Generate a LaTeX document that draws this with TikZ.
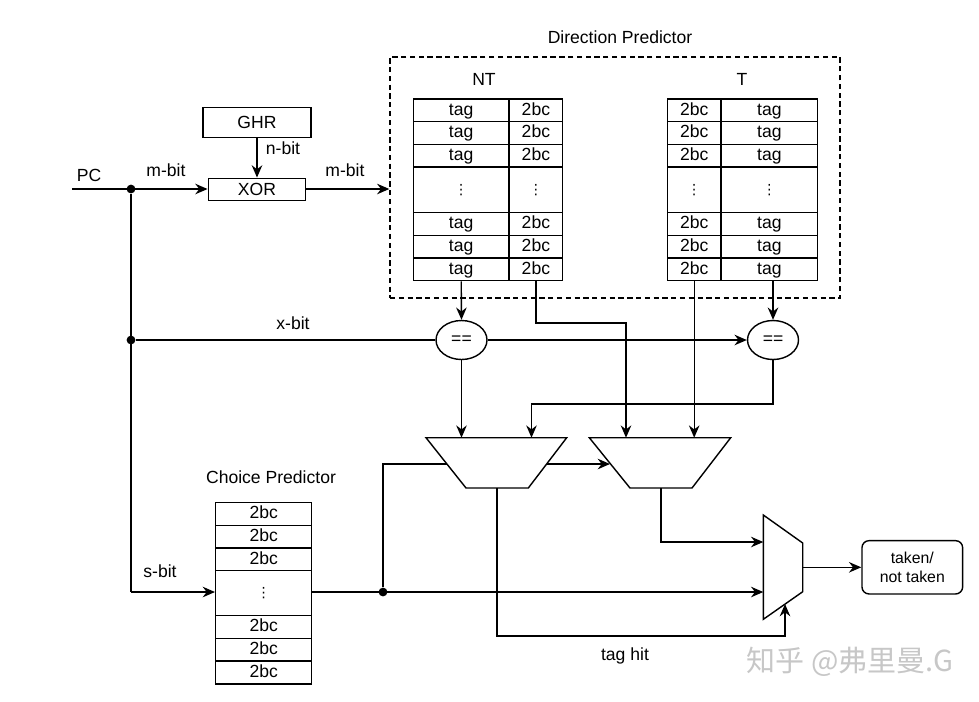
\documentclass[tikz,border=0pt]{standalone}
\usepackage{fontspec}
\setmainfont{Liberation Sans}
\newfontfamily\cjkfont{Noto Sans CJK SC}
\newfontfamily\symfont{DejaVu Sans}
\usetikzlibrary{arrows.meta,shapes.geometric}

\tikzset{
  wire/.style={line width=0.8pt},
  arr/.style={wire,-{Stealth[length=7pt,width=6pt]}},
  lbl/.style={font=\fontsize{10}{12}\selectfont,inner sep=0pt},
  cell/.style={draw,line width=0.8pt,inner sep=0pt,minimum height=0.454cm,
    text height=7.4pt,text depth=2pt,font=\fontsize{10}{12}\selectfont},
  dotcell/.style={draw,line width=0.8pt,inner sep=0pt,minimum height=0.914cm,
    font=\symfont\fontsize{8}{9}\selectfont},
  blk/.style={draw,line width=0.8pt,inner sep=0pt,fill=white,
    font=\fontsize{10}{12}\selectfont},
  cmp/.style={draw,ellipse,line width=0.8pt,minimum width=1.02cm,minimum height=0.78cm,
    inner sep=0pt,font=\fontsize{10}{12}\selectfont},
  junction/.style={circle,fill,inner sep=0pt,minimum size=5pt},
}

\begin{document}
\begin{tikzpicture}[x=0.02cm,y=-0.02cm]
  \useasboundingbox (0,0) rectangle (979,701);

  % PC, GHR and XOR
  \coordinate (pcin) at (72,189);
  \node[lbl] (pclbl) at (89,175) {PC};
  \node[blk,minimum width=2.16cm,minimum height=0.61cm] (ghr) at (257,122.5) {GHR};
  \node[blk,minimum width=1.95cm,minimum height=0.45cm] (xor) at (257,189.5) {XOR};
  \node[junction] (j1) at (131,189) {};
  \node[junction] (j2) at (131,340) {};
  \coordinate (j3) at (131,592);
  \draw[arr] (pcin) -- (xor.west |- pcin);
  \draw[arr] (ghr) -- (xor);
  \node[lbl] (mbit1) at (166,170) {m-bit};
  \node[lbl] (nbit) at (283,148) {n-bit};
  \node[lbl] (mbit2) at (345,170) {m-bit};

  % direction predictor
  \node[lbl] (dptitle) at (620,37) {Direction Predictor};
  \node[draw,line width=0.8pt,dash pattern=on 3pt off 2pt,minimum width=9cm,
    minimum height=4.82cm] (dp) at (615,177.5) {};
  \draw[arr] (xor.east |- pcin) -- (dp.west |- pcin);
  \node[lbl] (ntlbl) at (484,79) {NT};
  \node[lbl] (tlbl) at (742,79) {T};
  \foreach \i/\y in {1/110.4,2/133,3/155.7,5/224,6/246.7,7/269.4} {
    \node[cell,minimum width=1.914cm] (ntA\i) at (461.2,\y) {tag};
    \node[cell,minimum width=1.074cm] (ntB\i) at (535.9,\y) {2bc};
    \node[cell,minimum width=1.074cm] (tA\i) at (694.2,\y) {2bc};
    \node[cell,minimum width=1.934cm] (tB\i) at (769.4,\y) {tag};
  }
  \node[dotcell,minimum width=1.914cm] (ntA4) at (461.2,189.9) {⋮};
  \node[dotcell,minimum width=1.074cm] (ntB4) at (535.9,189.9) {⋮};
  \node[dotcell,minimum width=1.074cm] (tA4) at (694.2,189.9) {⋮};
  \node[dotcell,minimum width=1.934cm] (tB4) at (769.4,189.9) {⋮};

  % comparators
  \node[cmp] (eq1) at (461.5,340) {==};
  \node[cmp] (eq2) at (773,340) {==};
  \draw[wire] (j1) -- (j3);
  \draw[wire] (j2) -- (eq1);
  \node[lbl] (xbit) at (293,323) {x-bit};
  \draw[arr] (eq1) -- (eq2);
  \draw[arr] (ntA7.south) -- (eq1.north);
  \draw[arr] (tB7.south -| eq2) -- (eq2.north);

  % muxes
  \coordinate (m0in1) at (461.5,437.7);
  \coordinate (m0in2) at (531.5,437.7);
  \coordinate (bend1) at (531.5,404);
  \coordinate (m1in1) at (626,437.7);
  \coordinate (m1in2) at (694.2,437.7);
  \coordinate (bend2) at (535.9,323);
  \coordinate (m1sel) at (610,464);
  \coordinate (m0out) at (497,488);
  \coordinate (m1out) at (661,488);
  \coordinate (m2in1) at (763.3,542);
  \coordinate (m2in2) at (763.3,592);
  \coordinate (hitbend) at (785,636);
  \coordinate (m2sel) at (785,604);
  \coordinate (m2out) at (802.7,567.3);
  \node[junction] (j4) at (383,592) {};

  \draw[arr] (eq1.south) -- (m0in1);
  \draw[arr] (eq2.south) |- (bend1) -- (m0in2);
  \draw[arr] (ntB7.south) -- (bend2) -| (m1in1);
  \draw[arr] (tA7.south) -- (m1in2);
  \draw[arr] (j4) |- (m1sel);
  \draw[wire,fill=white] (426,437.7) -- (566.7,437.7) -- (528.3,488) -- (466,488) -- cycle;
  \draw[wire,fill=white] (589.3,437.7) -- (730.7,437.7) -- (692,488) -- (630,488) -- cycle;
  \draw[wire,fill=white] (763.3,515) -- (802.7,543) -- (802.7,591.7) -- (763.3,619.3) -- cycle;

  % choice predictor
  \node[lbl] (cptitle) at (271,477) {Choice Predictor};
  \foreach \i/\y in {1/514,2/536.7,3/559.3,5/627,6/649.8,7/672.7}
    \node[cell,minimum width=1.92cm] (cp\i) at (263.7,\y) {2bc};
  \node[dotcell,minimum width=1.92cm,minimum height=0.9cm] (cp4) at (263.7,593.2) {⋮};
  \draw[arr] (j3) -- (cp4.west |- j3);
  \node[lbl] (sbit) at (160,571) {s-bit};
  \draw[arr] (cp4.east |- j3) -- (m2in2);
  \draw[arr] (m1out) |- (m2in1);
  \draw[arr] (m0out) |- (hitbend) -- (m2sel);
  \node[lbl] (taghit) at (625,656) {tag hit};

  % result
  \node[draw,line width=0.8pt,rounded corners=4pt,minimum width=2.014cm,
    minimum height=1.066cm,align=center,inner sep=0pt,
    font=\fontsize{9}{10.5}\selectfont] (taken) at (912.3,567.3) {taken/\\not taken};
  \draw[arr] (m2out) -- (taken.west);

  \node[text=black!22,font=\cjkfont\fontsize{16.5}{18}\selectfont,inner sep=0pt]
    (wm) at (850,662) {知乎 @弗里曼.G};
\end{tikzpicture}
\end{document}
